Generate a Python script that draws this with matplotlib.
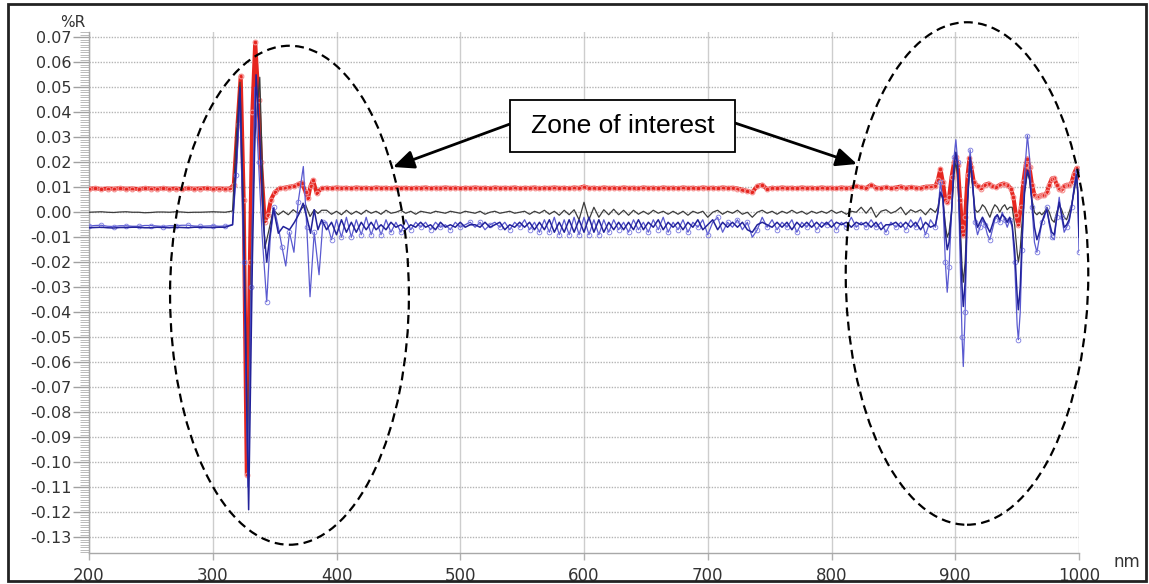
import matplotlib
matplotlib.use("Agg")
import matplotlib.pyplot as plt
from matplotlib.patches import Ellipse, Rectangle
from matplotlib.ticker import MultipleLocator, FormatStrFormatter

# ---------------- data (wavelength nm, reflectance %R) ----------------
wl_flat = [200, 205, 210, 215, 220, 225, 230, 235, 240, 245, 250, 255,
           260, 265, 270, 275, 280, 285, 290, 295, 300, 305, 310]

wl_mid = [392, 396, 400, 404, 408, 412, 416, 420, 424, 428,
          432, 436, 440, 444, 448, 452, 456, 460, 464, 468,
          472, 476, 480, 484, 488, 492, 496, 500, 504, 508,
          512, 516, 520, 524, 528, 532, 536, 540, 544, 548,
          552, 556, 560, 564, 568, 572, 576, 580, 584, 588,
          592, 596, 600, 604, 608, 612, 616, 620, 624, 628,
          632, 636, 640, 644, 648, 652, 656, 660, 664, 668,
          672, 676, 680, 684, 688, 692, 696, 700, 704, 708,
          712, 716, 720, 724, 728, 732, 736, 740, 744, 748,
          752, 756, 760, 764, 768, 772, 776, 780, 784, 788,
          792, 796, 800, 804, 808, 812, 816, 820, 824, 828,
          832, 836, 840, 844, 848, 852, 856, 860, 864, 868,
          872, 876, 880]

wl_right = [884, 886, 888, 890, 892, 893.5, 895, 897, 899, 900.5,
            902, 904, 905.5, 906.5, 908, 910, 912, 914, 916, 918,
            920, 922, 924, 926, 928, 930, 932, 934, 936, 938,
            940, 942, 944, 946, 948, 950, 951, 952.5, 954, 956,
            958.3, 960, 962, 964, 966, 968, 970, 972, 974, 976,
            978, 980, 982, 984, 986, 988, 990, 992, 994, 996,
            998, 999, 1000]

# red trace
red_y_flat = [0.0094, 0.0096, 0.0093, 0.0095, 0.0094, 0.0096, 0.0094, 0.0095,
              0.0093, 0.0096, 0.0095, 0.0094, 0.0096, 0.0094, 0.0095, 0.0093,
              0.0096, 0.0094, 0.0095, 0.0096, 0.0094, 0.0095, 0.0094]
red_x_spike = [314, 317, 320, 322.6, 325, 327.5, 330, 332, 334.3, 337, 339, 342,
               344.5, 347, 350, 354, 358, 362, 366, 369, 372, 375, 377, 379, 381,
               384, 388]
red_y_spike = [0.0095, 0.011, 0.035, 0.0545, 0.005, -0.105, -0.02, 0.04, 0.068,
               0.045, 0.02, -0.0037, -0.001, 0.005, 0.008, 0.0096, 0.0098, 0.0102,
               0.0105, 0.0112, 0.0119, 0.008, 0.0056, 0.0105, 0.0129, 0.0076, 0.0096]
red_y_mid = [0.0098, 0.0096, 0.0099, 0.0097, 0.0098, 0.0096, 0.0099, 0.0097, 0.0098, 0.0096,
             0.0099, 0.0097, 0.0098, 0.0096, 0.0099, 0.0097, 0.0098, 0.0096, 0.0098, 0.0097,
             0.0099, 0.0096, 0.0098, 0.0097, 0.0099, 0.0097, 0.0098, 0.0096, 0.0098, 0.0097,
             0.0099, 0.0097, 0.0098, 0.0096, 0.0099, 0.0097, 0.0098, 0.0097, 0.0099, 0.0096,
             0.0098, 0.0097, 0.0099, 0.0096, 0.0098, 0.0097, 0.0099, 0.0097, 0.0098, 0.0096,
             0.0099, 0.0097, 0.0103, 0.0097, 0.0098, 0.0096, 0.0099, 0.0097, 0.0098, 0.0096,
             0.0099, 0.0097, 0.0098, 0.0096, 0.0099, 0.0097, 0.0098, 0.0096, 0.0099, 0.0097,
             0.0098, 0.0096, 0.0099, 0.0097, 0.0098, 0.0096, 0.0099, 0.0097, 0.0098, 0.0096,
             0.0099, 0.0097, 0.0098, 0.0095, 0.0090, 0.0085, 0.0080, 0.0105, 0.0110, 0.0092,
             0.0098, 0.0096, 0.0099, 0.0097, 0.0098, 0.0096, 0.0099, 0.0097, 0.0098, 0.0096,
             0.0099, 0.0097, 0.0098, 0.0096, 0.0099, 0.0097, 0.0098, 0.0104, 0.0100, 0.0097,
             0.0110, 0.0098, 0.0097, 0.0100, 0.0096, 0.0099, 0.0103, 0.0097, 0.0101, 0.0098,
             0.0097, 0.0102, 0.0103]
red_x_right = [884, 886, 888, 890, 892, 893.5, 895, 897, 899, 900.5, 902, 904,
               905.5, 906.5, 908, 910, 911.5, 913, 915, 918, 921, 924, 927, 930,
               933, 936, 939, 942, 945, 947, 949, 951, 953, 955, 957, 958.3, 960,
               962, 964, 966, 968, 970, 972, 974, 976, 978, 980, 982, 984, 986,
               988, 990, 992, 994, 996, 998, 1000]
red_y_right = [0.0105, 0.013, 0.0174, 0.012, 0.005, 0.004, 0.006, 0.014, 0.02, 0.022,
               0.019, 0.005, -0.006, -0.009, -0.002, 0.015, 0.0217, 0.018, 0.012,
               0.0105, 0.0095, 0.011, 0.0115, 0.0105, 0.01, 0.011, 0.0115, 0.011, 0.0095,
               0.006, -0.001, -0.005, 0.002, 0.012, 0.019, 0.0215,
               0.018, 0.011, 0.007, 0.0063, 0.0065, 0.007, 0.0068, 0.008, 0.011, 0.0135,
               0.0137, 0.011, 0.0095, 0.009, 0.0105, 0.011, 0.0108, 0.012, 0.0155,
               0.0177, 0.014]

# black trace
black_y_flat = [0.0, 0.0001, 0.0002, 0.0, -0.0001, 0.0001, 0.0002, 0.0, 0.0,
                -0.0002, -0.0001, 0.0001, 0.0001, 0.0, 0.0002, 0.0001, -0.0001,
                0.0, 0.0, 0.0001, 0.0002, 0.0001, 0.0]
black_x_spike = [316, 319, 322, 325, 328.5, 331, 334, 338, 340, 342, 345, 349, 353,
                 357, 361, 365, 369, 372, 375, 378.6, 382, 385, 388]
black_y_spike = [0.0005, 0.03, 0.052, 0.0, -0.10, -0.02, 0.03, 0.054, 0.02, -0.0144,
                 -0.008, 0.001, -0.001, 0.0005, -0.001, 0.001, -0.0005, 0.0016, 0.003,
                 -0.0017, 0.001, -0.0005, 0.0008]
black_y_mid = [0.0008, -0.0008, 0.0004, -0.001, 0.0008, -0.0008, 0.0004, -0.0008, 0.0008, -0.0004,
               0.0004, -0.0008, 0.0008, -0.0004, 0.0, 0.0008, -0.0004, 0.0004, -0.0008, 0.0004,
               0.0, -0.0004, 0.0004, 0.0, -0.0004, 0.0004, 0.0, -0.0004, 0.0004, 0.0,
               -0.0004, 0.0004, -0.0008, 0.0, 0.0004, -0.0004, 0.0, 0.0004, -0.0004, 0.0,
               0.0004, -0.0008, 0.0004, -0.0004, 0.0008, -0.0008, 0.0004, -0.0012, 0.0008, -0.001,
               0.001, -0.003, 0.004, -0.003, 0.002, -0.002, 0.001, -0.001, 0.0012, -0.001,
               0.0008, -0.0012, 0.0008, -0.0008, 0.0004, -0.0008, 0.0008, -0.0004, 0.0004, -0.0008,
               0.0004, -0.0008, 0.0004, -0.0012, 0.0004, -0.0004, 0.0004, -0.002, 0.0, 0.0008,
               -0.0008, 0.0004, -0.0004, 0.0008, -0.0008, 0.0, -0.002, 0.0, 0.0008, -0.0004,
               0.0004, -0.0008, 0.0004, -0.0004, 0.0008, -0.0004, 0.0004, -0.0008, 0.0004, -0.0004,
               0.0004, -0.0004, 0.0008, -0.0004, 0.0004, -0.0008, 0.0004, 0.0, 0.002, -0.0004,
               0.002, -0.002, 0.0004, 0.001, -0.0004, 0.0004, 0.002, -0.001, 0.001, 0.0,
               0.001, -0.001, 0.0015]
black_y_right = [0.0, 0.002, 0.008, 0.005, -0.005, -0.01, -0.008, 0.0, 0.015, 0.02,
                 0.015, -0.005, -0.022, -0.028, -0.02, 0.005, 0.02, 0.01, 0.001, 0.0,
                 0.001, 0.003, 0.002, 0.0, -0.002, 0.001, 0.003, 0.002, 0.0, 0.002,
                 0.003, 0.001, 0.002, 0.002, -0.005, -0.016, -0.02, -0.015, -0.004, 0.008,
                 0.016, 0.013, 0.005, 0.0, -0.001, 0.0, -0.001, 0.0, 0.002, 0.0,
                 -0.003, -0.004, 0.0, 0.003, 0.001, -0.002, -0.003, 0.0, 0.003, 0.008,
                 0.014, 0.008, -0.002]

# dark navy trace
navy_y_flat = [-0.0062, -0.0061, -0.006, -0.0062, -0.0063, -0.0061, -0.0061, -0.006,
               -0.006, -0.0062, -0.0062, -0.006, -0.0061, -0.0062, -0.006, -0.0061,
               -0.0062, -0.006, -0.006, -0.0061, -0.0061, -0.006, -0.006]
navy_x_spike = [316, 319, 322, 325, 329, 332, 335, 338, 341, 343.6, 346, 349, 353,
                357, 362, 366, 370, 373, 376, 379, 382, 385, 388]
navy_y_spike = [-0.005, 0.02, 0.05, -0.01, -0.119, -0.02, 0.055, 0.03, -0.005, -0.02,
                -0.01, 0.0016, -0.0084, -0.0057, -0.007, -0.004, -0.0004, 0.0036, -0.002,
                -0.0084, 0.001, -0.007, -0.003]
navy_y_mid = [-0.007, -0.004, -0.009, -0.003, -0.008, -0.004, -0.008, -0.004, -0.007, -0.004,
              -0.007, -0.005, -0.007, -0.004, -0.006, -0.005, -0.007, -0.005, -0.006, -0.004,
              -0.006, -0.005, -0.007, -0.004, -0.006, -0.005, -0.006, -0.004, -0.006, -0.005,
              -0.005, -0.006, -0.004, -0.006, -0.005, -0.004, -0.007, -0.005, -0.006, -0.004,
              -0.006, -0.004, -0.007, -0.004, -0.007, -0.003, -0.008, -0.004, -0.008, -0.003,
              -0.008, -0.003, -0.008, -0.002, -0.008, -0.003, -0.008, -0.004, -0.007, -0.004,
              -0.007, -0.004, -0.007, -0.003, -0.007, -0.004, -0.006, -0.003, -0.007, -0.004,
              -0.006, -0.004, -0.007, -0.004, -0.006, -0.003, -0.007, -0.005, -0.003, -0.007,
              -0.004, -0.006, -0.004, -0.006, -0.004, -0.007, -0.008, -0.005, -0.004, -0.005,
              -0.006, -0.004, -0.006, -0.004, -0.007, -0.004, -0.006, -0.004, -0.006, -0.004,
              -0.006, -0.004, -0.006, -0.004, -0.005, -0.004, -0.006, -0.004, -0.005, -0.004,
              -0.006, -0.004, -0.007, -0.005, -0.005, -0.004, -0.006, -0.004, -0.006, -0.004,
              -0.007, -0.004, -0.006]
navy_y_right = [-0.005, 0.0, 0.008, 0.006, -0.008, -0.015, -0.012, 0.0, 0.018, 0.024,
                0.018, -0.01, -0.03, -0.0377, -0.028, 0.005, 0.022, 0.012, -0.002, -0.006,
                -0.004, -0.002, -0.004, -0.006, -0.008, -0.005, -0.002, -0.001, -0.003, -0.001,
                -0.002, -0.004, -0.002, -0.005, -0.015, -0.033, -0.039, -0.03, -0.01, 0.008,
                0.0169, 0.014, 0.004, -0.006, -0.011, -0.008, -0.004, -0.001, 0.001, -0.004,
                -0.008, -0.009, -0.002, 0.004, -0.001, -0.006, -0.005, -0.003, 0.002, 0.009,
                0.015, 0.008, -0.01]

# light blue trace (with circle markers)
blue_y_flat = [-0.0055, -0.0053, -0.0052, -0.0056, -0.0057, -0.0054, -0.0054, -0.0056,
               -0.0056, -0.0053, -0.0053, -0.0055, -0.0057, -0.0054, -0.0054, -0.0052,
               -0.0052, -0.0055, -0.0056, -0.0055, -0.0054, -0.0056, -0.0055]
blue_x_spike = [316, 319, 322, 325, 328.5, 331, 334, 337, 340, 343.6, 346.5, 349.5,
                353, 356, 359, 362, 365.6, 369, 373.2, 376, 378.6, 382, 385.9, 389]
blue_y_spike = [-0.005, 0.015, 0.045, -0.02, -0.11, -0.03, 0.05, 0.02, -0.01, -0.0358,
                -0.01, 0.002, -0.006, -0.014, -0.0215, -0.008, -0.016, 0.004, 0.0183,
                -0.006, -0.0338, -0.008, -0.025, -0.004]
blue_y_mid = [-0.004, -0.011, -0.003, -0.010, -0.002, -0.010, -0.003, -0.009, -0.002, -0.009,
              -0.003, -0.009, -0.003, -0.008, -0.004, -0.008, -0.003, -0.007, -0.004, -0.006,
              -0.004, -0.007, -0.004, -0.006, -0.005, -0.007, -0.004, -0.006, -0.005, -0.004,
              -0.006, -0.004, -0.007, -0.005, -0.004, -0.006, -0.004, -0.007, -0.004, -0.006,
              -0.003, -0.007, -0.004, -0.008, -0.003, -0.008, -0.002, -0.009, -0.003, -0.009,
              -0.002, -0.009, -0.002, -0.009, -0.003, -0.009, -0.003, -0.008, -0.003, -0.007,
              -0.004, -0.008, -0.003, -0.007, -0.004, -0.008, -0.003, -0.007, -0.002, -0.008,
              -0.004, -0.007, -0.003, -0.008, -0.004, -0.006, -0.003, -0.009, -0.004, -0.002,
              -0.008, -0.004, -0.006, -0.003, -0.007, -0.004, -0.010, -0.007, -0.002, -0.006,
              -0.003, -0.007, -0.004, -0.006, -0.003, -0.008, -0.004, -0.006, -0.003, -0.007,
              -0.004, -0.005, -0.003, -0.007, -0.004, -0.006, -0.002, -0.006, -0.004, -0.006,
              -0.003, -0.006, -0.004, -0.008, -0.004, -0.006, -0.004, -0.007, -0.003, -0.006,
              -0.002, -0.009, -0.003]
blue_y_right = [-0.006, 0.0, 0.012, 0.005, -0.02, -0.032, -0.022, 0.0, 0.022, 0.029,
                0.02, -0.02, -0.05, -0.0617, -0.04, 0.005, 0.025, 0.012, -0.004, -0.009,
                -0.006, -0.003, -0.005, -0.009, -0.011, -0.007, -0.003, -0.001, -0.004, 0.0,
                -0.003, -0.006, -0.003, -0.006, -0.02, -0.045, -0.051, -0.04, -0.015, 0.015,
                0.0307, 0.022, 0.002, -0.012, -0.016, -0.01, -0.004, -0.002, 0.002, -0.005,
                -0.01, -0.011, -0.002, 0.006, -0.002, -0.008, -0.006, -0.004, 0.002, 0.01,
                0.0167, 0.008, -0.016]

x_ticks = [200, 300, 400, 500, 600, 700, 800, 900, 1000]
annotation_text = "Zone of interest"
y_unit = "%R"
x_unit = "nm"

# ---------------- figure ----------------
W, H = 1149, 584
fig = plt.figure(figsize=(W / 100, H / 100), dpi=100)
ax = fig.add_axes([89 / W, (H - 553) / H, 990 / W, (553 - 32) / H])

red_x = wl_flat + red_x_spike + wl_mid + red_x_right
red_y = red_y_flat + red_y_spike + red_y_mid + red_y_right
black_x = wl_flat + black_x_spike + wl_mid + wl_right
black_y = black_y_flat + black_y_spike + black_y_mid + black_y_right
navy_x = wl_flat + navy_x_spike + wl_mid + wl_right
navy_y = navy_y_flat + navy_y_spike + navy_y_mid + navy_y_right
blue_x = wl_flat + blue_x_spike + wl_mid + wl_right
blue_y = blue_y_flat + blue_y_spike + blue_y_mid + blue_y_right

ax.plot(red_x, red_y, color='#e6261f', lw=2.9, zorder=3,
        marker='o', ms=3.4, mfc='none', mec='#f59090', mew=0.8)
ax.plot(black_x, black_y, color='#3c3c3c', lw=0.9, zorder=4)
ax.plot(blue_x, blue_y, color='#5a5ad0', lw=0.9, zorder=5,
        marker='o', ms=3.4, mfc='none', mec='#7a7ae0', mew=0.6, markevery=2)
ax.plot(navy_x, navy_y, color='#22229a', lw=1.1, zorder=6)

ax.set_xlim(200, 1000)
ax.set_ylim(-0.1363, 0.0721)

for s in ['top', 'right']:
    ax.spines[s].set_visible(False)
for s in ['left', 'bottom']:
    ax.spines[s].set_color('#a8a8a8')
    ax.spines[s].set_linewidth(1.0)

ax.yaxis.set_major_locator(MultipleLocator(0.01))
ax.yaxis.set_minor_locator(MultipleLocator(0.001))
ax.yaxis.set_major_formatter(FormatStrFormatter('%.2f'))
ax.set_xticks(x_ticks)
ax.set_xticklabels([str(t) for t in x_ticks])

ax.tick_params(axis='y', which='major', length=11.5, width=1.0, color='#a0a0a0',
               pad=1, labelsize=11.5, labelcolor='#333333')
ax.tick_params(axis='y', which='minor', length=6.5, width=0.6, color='#b0b0b0')
ax.tick_params(axis='x', which='major', length=5, width=1.0, color='#b0b0b0',
               pad=5, labelsize=12, labelcolor='#333333')
for lab in ax.get_xticklabels() + ax.get_yticklabels():
    lab.set_fontfamily('DejaVu Sans')

ax.yaxis.grid(True, which='major', ls=(0, (1, 1)), color='#b4b4b4', lw=1.0, zorder=0)
ax.xaxis.grid(True, which='major', ls='-', color='#cdcdcd', lw=1.0, zorder=0)
ax.set_axisbelow(True)

# units
fig.text(72.5 / W, 1 - 22.5 / H, y_unit, ha='center', va='center',
         fontsize=11, color='#333333', family='DejaVu Sans')
fig.text(1127 / W, 1 - 562 / H, x_unit, ha='center', va='center',
         fontsize=12, color='#333333', family='DejaVu Sans')

# dashed ellipses
for cx, cy, w, h in [(362, -0.0332, 193, 0.1996), (909.5, -0.0245, 196, 0.2010)]:
    e = Ellipse((cx, cy), w, h, fill=False, edgecolor='black', lw=1.6,
                ls=(0, (4, 2.4)), clip_on=False, zorder=8)
    ax.add_patch(e)

# annotation box and arrows
ax.add_patch(Rectangle((540.2, 0.0241), 181.8, 0.0208, facecolor='white',
                       edgecolor='black', lw=1.3, zorder=10, clip_on=False))
ax.text(631.1, 0.0345, annotation_text, ha='center', va='center', fontsize=19,
        family='Liberation Sans', color='black', zorder=11)
for start, tip in [((540.2, 0.0353), (445.7, 0.0181)), ((722.0, 0.0357), (820.6, 0.0193))]:
    ax.annotate('', xy=tip, xytext=start,
                arrowprops=dict(arrowstyle='-|>,head_length=0.9,head_width=0.4',
                                color='black', lw=2.0, mutation_scale=14,
                                shrinkA=0, shrinkB=0), zorder=9)

# outer frame
fig.patches.append(Rectangle((8 / W, 1 - 581 / H), (1146 - 8) / W, (581 - 4) / H,
                             transform=fig.transFigure, fill=False,
                             edgecolor='#222222', lw=2.0))

fig.savefig('out.png', dpi=100)
